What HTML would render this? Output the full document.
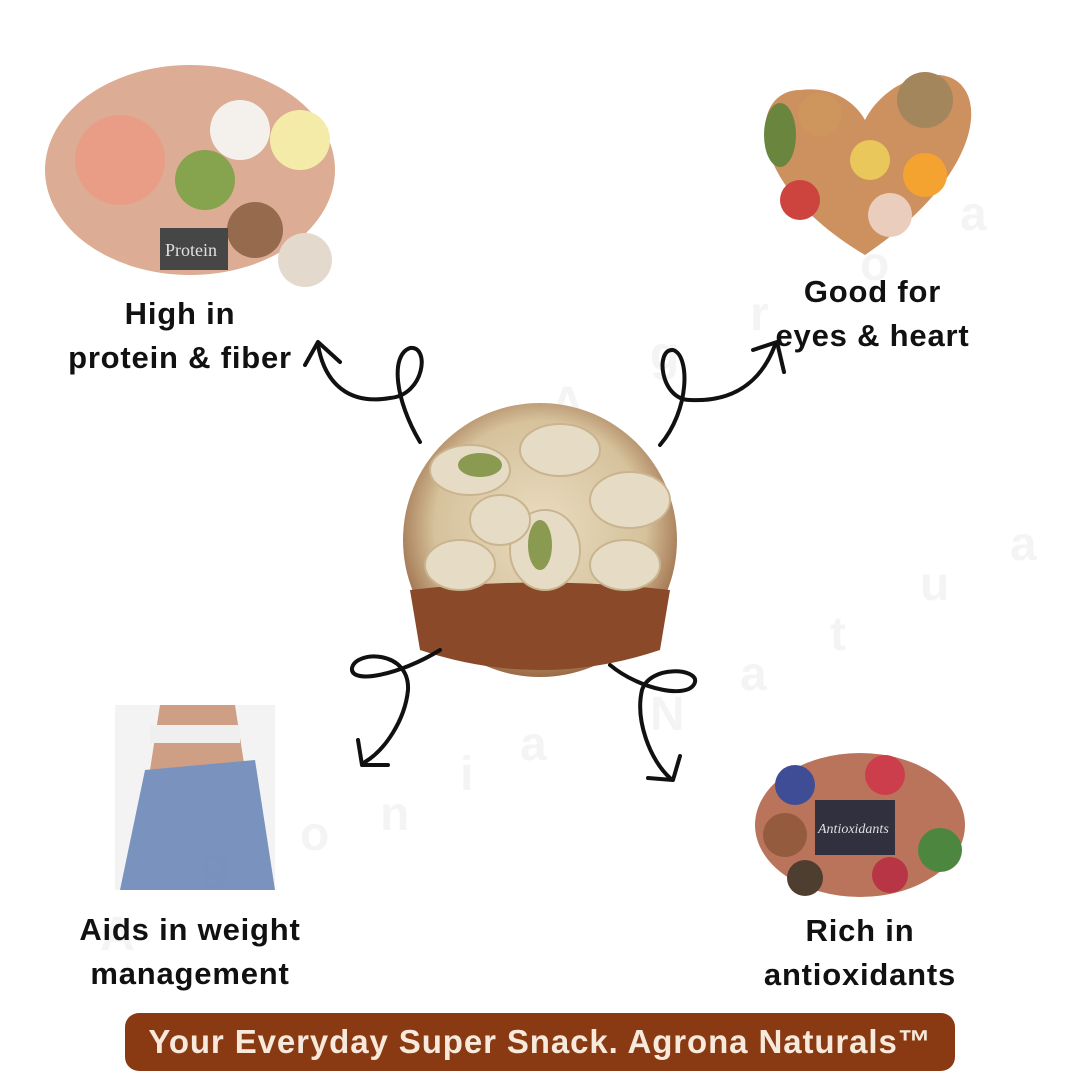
<!DOCTYPE html>
<html><head><meta charset="utf-8"><style>
body{margin:0;width:1080px;height:1080px;background:#fff;position:relative;overflow:hidden;font-family:"Liberation Sans",sans-serif}
.l{position:absolute;font-weight:bold;font-size:31px;letter-spacing:0.8px;color:#111;text-align:center;line-height:44px;white-space:nowrap}
.ban{position:absolute;left:125px;top:1013px;width:830px;height:58px;background:#8a3a12;border-radius:14px;color:#f7eadc;font-weight:bold;font-size:33px;line-height:58px;text-align:center;letter-spacing:0.9px;white-space:nowrap}
</style></head><body>
<svg width="1080" height="1080" style="position:absolute;left:0;top:0">
<defs>
<radialGradient id="g1" cx="50%" cy="45%" r="55%"><stop offset="0" stop-color="#e9dcc0"/><stop offset="0.7" stop-color="#d6c29c"/><stop offset="1" stop-color="#9a6a45"/></radialGradient>
</defs>
<g fill="#f4f4f4" font-family="Liberation Sans" font-size="48" font-weight="bold">
<text x="550" y="420">A</text><text x="650" y="370">g</text><text x="750" y="330">r</text><text x="860" y="280">o</text><text x="960" y="230">a</text>
<text x="100" y="950">A</text><text x="200" y="880">g</text><text x="300" y="850">o</text><text x="380" y="830">n</text><text x="460" y="790">i</text><text x="520" y="760">a</text>
<text x="650" y="730">N</text><text x="740" y="690">a</text><text x="830" y="650">t</text><text x="920" y="600">u</text><text x="1010" y="560">a</text>
</g>
<circle cx="540" cy="540" r="137" fill="url(#g1)"/>
<path d="M410 590 Q540 575 670 590 L660 650 Q540 690 420 650Z" fill="#8a4a2a"/>
<g fill="#e6dcc5" stroke="#c9b48e" stroke-width="2">
<ellipse cx="470" cy="470" rx="40" ry="25"/><ellipse cx="560" cy="450" rx="40" ry="26"/><ellipse cx="630" cy="500" rx="40" ry="28"/>
<ellipse cx="545" cy="550" rx="35" ry="40"/><ellipse cx="460" cy="565" rx="35" ry="25"/><ellipse cx="625" cy="565" rx="35" ry="25"/><ellipse cx="500" cy="520" rx="30" ry="25"/>
</g>
<ellipse cx="480" cy="465" rx="22" ry="12" fill="#8a9a50"/><ellipse cx="540" cy="545" rx="12" ry="25" fill="#8a9a50"/>
<g opacity="0.9">
<ellipse cx="190" cy="170" rx="145" ry="105" fill="#d9a48a"/>
<circle cx="120" cy="160" r="45" fill="#e7937a"/><circle cx="240" cy="130" r="30" fill="#f3f0ea"/><circle cx="300" cy="140" r="30" fill="#f5e9a0"/>
<circle cx="255" cy="230" r="28" fill="#8a5a3a"/><circle cx="305" cy="260" r="27" fill="#e0d6c8"/><circle cx="205" cy="180" r="30" fill="#7a9a3a"/>
<rect x="160" y="228" width="68" height="42" fill="#333"/>
<text x="165" y="256" fill="#ddd" font-size="18" font-family="Liberation Serif">Protein</text>
<path d="M865 255 C740 180 750 90 800 90 C840 85 860 110 865 120 C875 100 900 75 940 75 C990 80 990 170 865 255Z" fill="#c8844e"/>
<circle cx="820" cy="115" r="22" fill="#c98a4b"/><circle cx="925" cy="100" r="28" fill="#9a7a4a"/><circle cx="925" cy="175" r="22" fill="#f49a1a"/>
<circle cx="870" cy="160" r="20" fill="#e8c14a"/><ellipse cx="780" cy="135" rx="16" ry="32" fill="#5a7a2a"/><circle cx="800" cy="200" r="20" fill="#c8302a"/><circle cx="890" cy="215" r="22" fill="#e9c8b8"/>
<rect x="115" y="705" width="160" height="185" fill="#f2f2f2"/>
<path d="M160 705 L235 705 L245 770 L270 890 L130 890 L150 770Z" fill="#c99478"/>
<path d="M145 770 L255 760 L275 890 L120 890Z" fill="#6b88b8"/>
<rect x="150" y="725" width="90" height="18" fill="#eee"/>
<ellipse cx="860" cy="825" rx="105" ry="72" fill="#b3664a"/>
<circle cx="795" cy="785" r="20" fill="#2a3a8a"/><circle cx="885" cy="775" r="20" fill="#c82a3a"/><circle cx="785" cy="835" r="22" fill="#8a4a2a"/>
<circle cx="940" cy="850" r="22" fill="#3a7a2a"/><circle cx="890" cy="875" r="18" fill="#b02030"/><circle cx="805" cy="878" r="18" fill="#3a2a1a"/>
<rect x="815" y="800" width="80" height="55" fill="#1a1a2a"/>
<text x="818" y="833" fill="#ddd" font-size="14" font-family="Liberation Serif" font-style="italic">Antioxidants</text>
</g>
<g fill="none" stroke="#111" stroke-width="4" stroke-linecap="round" stroke-linejoin="round">
<path d="M420 442 C395 400 390 355 410 348 C430 345 425 395 390 398 C350 405 325 385 318 345"/>
<path d="M305 365 L318 342 L340 362"/>
<path d="M660 445 C690 410 690 355 673 350 C655 348 660 400 690 400 C730 402 760 385 775 345"/>
<path d="M753 350 L777 342 L784 372"/>
<path d="M440 650 C400 675 350 685 352 668 C356 650 410 650 408 690 C405 720 385 750 365 762"/>
<path d="M358 740 L362 765 L388 765"/>
<path d="M610 665 C640 690 690 700 695 682 C698 668 650 665 642 690 C635 720 650 760 670 778"/>
<path d="M648 778 L673 780 L680 756"/>
</g>
</svg>
<div class="l" style="left:50px;top:292px;width:260px">High in<br>protein &amp; fiber</div>
<div class="l" style="left:760px;top:270px;width:225px">Good for<br>eyes &amp; heart</div>
<div class="l" style="left:60px;top:908px;width:260px">Aids in weight<br>management</div>
<div class="l" style="left:740px;top:909px;width:240px">Rich in<br>antioxidants</div>
<div class="ban">Your Everyday Super Snack. Agrona Naturals™</div>
</body></html>
